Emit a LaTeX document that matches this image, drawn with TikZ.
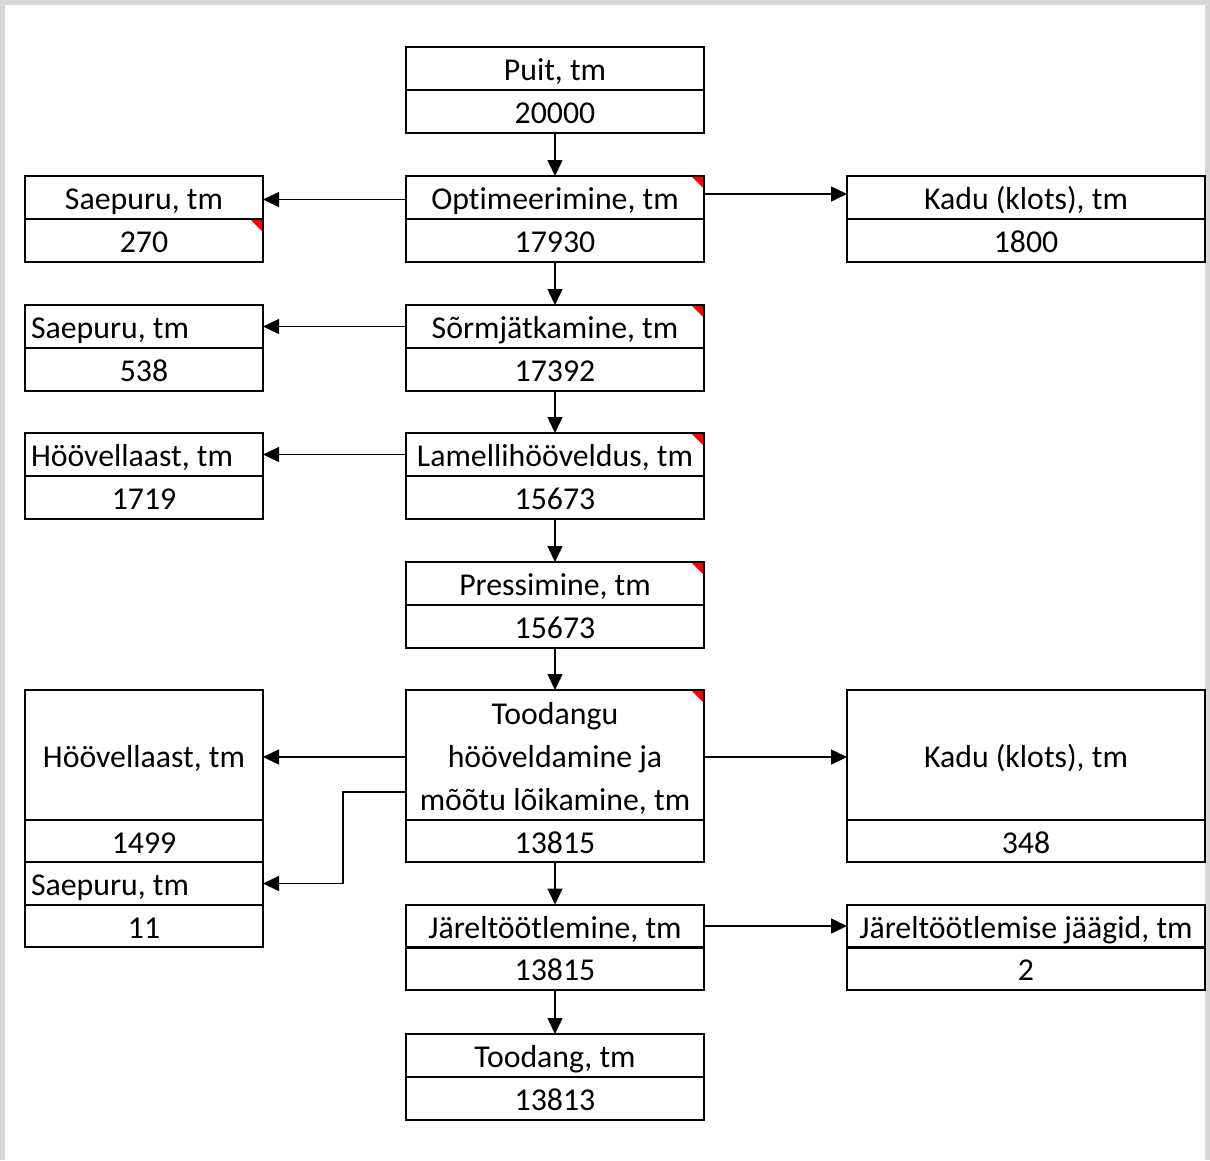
\documentclass[tikz,border=0pt]{standalone}
\usepackage{fontspec}
\setmainfont[RawFeature=-liga]{Carlito}
\usetikzlibrary{arrows.meta}
\definecolor{framegray}{HTML}{D6D6D6}
\definecolor{flagred}{HTML}{FF0000}
\frenchspacing
\tikzset{
  cellbox/.style={draw, line width=2pt, inner sep=0pt, outer sep=0pt, align=center,
     text height=26pt, text depth=2pt,
     font=\fontsize{31.8}{43}\selectfont},
  wL/.style={minimum width=238pt},
  wC/.style={minimum width=298pt},
  wR/.style={minimum width=358pt},
  hN/.style={minimum height=43pt},
  flow/.style={line width=1.5pt, -{Triangle[length=16pt,width=15pt]}},
}
\newcommand{\lefttext}[1]{\makebox[226pt][l]{#1}}
\newcommand{\redflag}[1]{\fill[flagred] ([shift={(-12pt,-1pt)}]#1) -- ([shift={(-1pt,-1pt)}]#1) -- ([shift={(-1pt,-12pt)}]#1) -- cycle;}
\begin{document}
\begin{tikzpicture}[x=1pt,y=-1pt]
\useasboundingbox (0,0) rectangle (1210,1160);
\fill[framegray] (0,0) rectangle (1210,1160);
\fill[white] (5,5) rectangle (1205,1160);

% centre column
\node[cellbox,wC,hN] (puitT) at (555,68.5) {Puit, tm};
\node[cellbox,wC,hN] (puitV) at (555,111.5) {20000};
\node[cellbox,wC,hN] (optT) at (555,197.5) {Optimeerimine, tm};
\node[cellbox,wC,hN] (optV) at (555,240.5) {17930};
\node[cellbox,wC,hN] (sorT) at (555,326.5) {Sõrmjätkamine, tm};
\node[cellbox,wC,hN] (sorV) at (555,369) {17392};
\node[cellbox,wC,hN] (lamT) at (555,454.5) {Lamellihööveldus, tm};
\node[cellbox,wC,hN] (lamV) at (555,497.5) {15673};
\node[cellbox,wC,hN] (preT) at (555,583.5) {Pressimine, tm};
\node[cellbox,wC,hN] (preV) at (555,626) {15673};
\node[cellbox,wC,minimum height=130pt,text height=34pt,text depth=95pt] (tooT) at (555,755)
  {\begin{tabular}[t]{@{}c@{}}Toodangu\\hööveldamine ja\\mõõtu lõikamine, tm\end{tabular}};
\node[cellbox,wC,minimum height=42pt] (tooV) at (555,841) {13815};
\node[cellbox,wC,hN] (jarT) at (555,926) {Järeltöötlemine, tm};
\node[cellbox,wC,hN] (jarV) at (555,968.5) {13815};
\node[cellbox,wC,hN] (prodT) at (555,1055.5) {Toodang, tm};
\node[cellbox,wC,hN] (prodV) at (555,1098) {13813};

% left column
\node[cellbox,wL,hN] (sp1T) at (144,197.5) {Saepuru, tm};
\node[cellbox,wL,hN] (sp1V) at (144,240.5) {270};
\node[cellbox,wL,hN] (sp2T) at (144,326.5) {\lefttext{Saepuru, tm}};
\node[cellbox,wL,hN] (sp2V) at (144,369) {538};
\node[cellbox,wL,hN] (hv1T) at (144,454.5) {\lefttext{Höövellaast, tm}};
\node[cellbox,wL,hN] (hv1V) at (144,497.5) {1719};
\node[cellbox,wL,minimum height=130pt] (hv2T) at (144,755) {Höövellaast, tm};
\node[cellbox,wL,minimum height=42pt] (hv2V) at (144,841) {1499};
\node[cellbox,wL,hN] (sp3T) at (144,883.5) {\lefttext{Saepuru, tm}};
\node[cellbox,wL,minimum height=42pt] (sp3V) at (144,926) {11};

% right column
\node[cellbox,wR,hN] (kd1T) at (1026,197.5) {Kadu (klots), tm};
\node[cellbox,wR,hN] (kd1V) at (1026,240.5) {1800};
\node[cellbox,wR,minimum height=130pt] (kd2T) at (1026,755) {Kadu (klots), tm};
\node[cellbox,wR,minimum height=42pt] (kd2V) at (1026,841) {348};
\node[cellbox,wR,hN] (jjT) at (1026,926) {Järeltöötlemise jäägid, tm};
\node[cellbox,wR,hN] (jjV) at (1026,968.5) {2};

% red comment flags
\redflag{optT.north east}
\redflag{sp1V.north east}
\redflag{sorT.north east}
\redflag{lamT.north east}
\redflag{preT.north east}
\redflag{tooT.north east}

% vertical flow
\draw[flow] (puitV.south) -- (optT.north);
\draw[flow] (optV.south) -- (sorT.north);
\draw[flow] (sorV.south) -- (lamT.north);
\draw[flow] (lamV.south) -- (preT.north);
\draw[flow] (preV.south) -- (tooT.north);
\draw[flow] (tooV.south) -- (jarT.north);
\draw[flow] (jarV.south) -- (prodT.north);

% side flows
\draw[flow] ([yshift=-2pt]optT.west) -- ([yshift=-2pt]sp1T.east);
\draw[flow] ([yshift=3.5pt]optT.east) -- ([yshift=3.5pt]kd1T.west);
\draw[flow] (sorT.west) -- (sp2T.east);
\draw[flow] (lamT.west) -- (hv1T.east);
\draw[flow] ([yshift=-2pt]tooT.west) -- ([yshift=-2pt]hv2T.east);
\draw[flow] ([yshift=-2pt]tooT.east) -- ([yshift=-2pt]kd2T.west);
\coordinate (bend) at (343,792);
\draw[flow] (tooT.west |- bend) -- (bend) |- (sp3T.east);
\draw[flow] (jarT.east) -- (jjT.west);
\end{tikzpicture}
\end{document}
